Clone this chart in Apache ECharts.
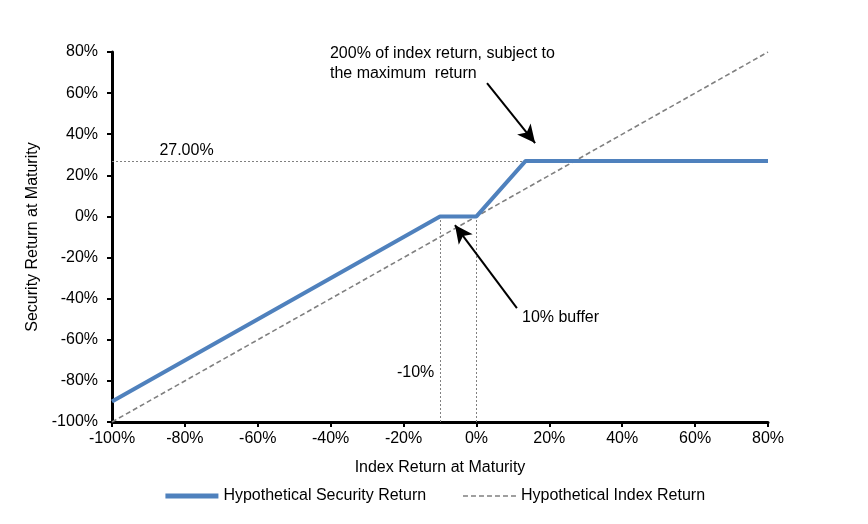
<!DOCTYPE html>
<html>
<head>
<meta charset="utf-8">
<script src="https://cdn.jsdelivr.net/npm/echarts@6/dist/echarts.min.js"></script>
<style>
  html, body { margin: 0; padding: 0; background: #fff; }
  #chart { width: 868px; height: 524px; }
</style>
</head>
<body>
<div id="chart"></div>
<script>
// payoff points (index return %, security return %)
const securityX = [-100, -10, 0, 13.5, 80];
const securityY = [-90, 0, 0, 27, 27];
const indexX = [-100, 80];
const indexY = [-100, 80];

const capLevel = 27;
const bufferLevel = -10;

// annotation arrows, in data units: [fromX, fromY, toX, toY]
const capArrow = [2.9, 64.9, 16.1, 35.7];
const bufferArrow = [11.1, -44.6, -5.9, -4.2];

const font = 'Liberation Sans, Arial, sans-serif';
const grey = '#808080';
const blue = '#4F81BD';

const pairs = (xs, ys) => xs.map((x, i) => [x, ys[i]]);

const myChart = echarts.init(document.getElementById('chart'));

const dotted = { color: grey, width: 1, type: [2, 2] };
const textLabel = (text, x, y, align) => ({
  coord: [x, y],
  symbolSize: 0,
  label: {
    show: true,
    formatter: text,
    position: 'inside',
    align: align || 'left',
    verticalAlign: 'middle',
    color: '#000',
    fontSize: 16,
    fontFamily: font,
    lineHeight: 20,
  },
});

myChart.setOption({
  animation: false,
  textStyle: { fontFamily: font },
  grid: { left: 112, right: 100, top: 52, bottom: 102 },
  legend: {
    bottom: 15,
    left: 'center',
    itemGap: 36,
    itemWidth: 53,
    itemHeight: 14,
    itemStyle: { color: 'rgba(0,0,0,0)', borderColor: 'rgba(0,0,0,0)', borderWidth: 0 },
    textStyle: { fontSize: 16, color: '#000', fontFamily: font },
    data: [
      { name: 'Hypothetical Security Return', lineStyle: { width: 5, color: blue } },
      { name: 'Hypothetical Index Return', lineStyle: { width: 1.6, color: grey } },
    ],
  },
  xAxis: {
    type: 'value',
    min: -100,
    max: 80,
    interval: 20,
    name: 'Index Return at Maturity',
    nameLocation: 'middle',
    nameGap: 38,
    nameTextStyle: { fontSize: 16, color: '#000' },
    axisLine: { onZero: false, lineStyle: { color: '#000', width: 3 } },
    axisTick: { show: true, length: 5, lineStyle: { color: '#000', width: 2 } },
    axisLabel: { fontSize: 16, color: '#000', formatter: '{value}%', margin: 9 },
    splitLine: { show: false },
  },
  yAxis: {
    type: 'value',
    min: -100,
    max: 80,
    interval: 20,
    name: 'Security Return at Maturity',
    nameLocation: 'middle',
    nameGap: 69,
    nameTextStyle: { fontSize: 16, color: '#000' },
    axisLine: { show: true, onZero: false, lineStyle: { color: '#000', width: 3 } },
    axisTick: { show: true, length: 5, lineStyle: { color: '#000', width: 2 } },
    axisLabel: { fontSize: 16, color: '#000', formatter: '{value}%', margin: 14 },
    splitLine: { show: false },
  },
  series: [
    {
      name: 'Hypothetical Index Return',
      type: 'line',
      data: pairs(indexX, indexY),
      symbol: 'none',
      lineStyle: { color: grey, width: 1.6, type: [5, 3] },
      itemStyle: { color: grey },
      z: 2,
    },
    {
      name: 'Hypothetical Security Return',
      type: 'line',
      data: pairs(securityX, securityY),
      symbol: 'none',
      lineStyle: { color: blue, width: 4 },
      itemStyle: { color: blue },
      z: 3,
      markLine: {
        silent: true,
        symbol: 'none',
        label: { show: false },
        lineStyle: dotted,
        z: 1,
        data: [
          [{ coord: [-100, capLevel] }, { coord: [securityX[3], capLevel] }],
          [{ coord: [bufferLevel, -100] }, { coord: [bufferLevel, 0] }],
          [{ coord: [0, -100] }, { coord: [0, 0] }],
        ],
      },
      markPoint: {
        silent: true,
        symbol: 'circle',
        data: [
          textLabel('27.00%', -87, 32),
          textLabel('-10%', -16.7, -76, 'center'),
          textLabel('200% of index return, subject to\nthe maximum  return', -40.2, 74.6),
          textLabel('10% buffer', 12.5, -49),
        ],
      },
    },
    {
      name: 'arrows',
      type: 'line',
      data: [],
      silent: true,
      markLine: {
        silent: true,
        symbol: ['none', 'arrow'],
        symbolSize: [13, 18],
        label: { show: false },
        lineStyle: { color: '#000', width: 2, type: 'solid' },
        data: [
          [{ coord: [capArrow[0], capArrow[1]] }, { coord: [capArrow[2], capArrow[3]] }],
          [{ coord: [bufferArrow[0], bufferArrow[1]] }, { coord: [bufferArrow[2], bufferArrow[3]] }],
        ],
      },
    },
  ],
});

window.addEventListener('resize', () => myChart.resize());
</script>
</body>
</html>
